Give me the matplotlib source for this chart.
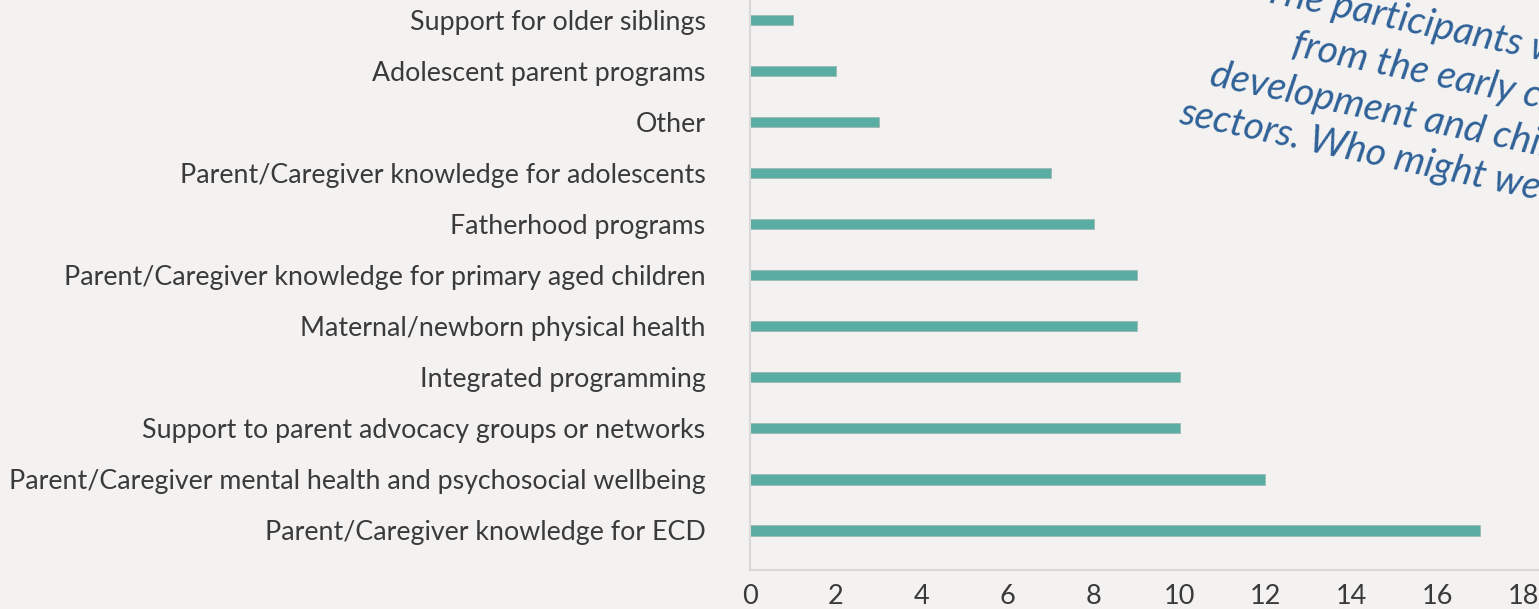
import matplotlib.pyplot as plt

# categories from bottom to top
categories = [
    "Parent/Caregiver knowledge for ECD",
    "Parent/Caregiver mental health and psychosocial wellbeing",
    "Support to parent advocacy groups or networks",
    "Integrated programming",
    "Maternal/newborn physical health",
    "Parent/Caregiver knowledge for primary aged children",
    "Fatherhood programs",
    "Parent/Caregiver knowledge for adolescents",
    "Other",
    "Adolescent parent programs",
    "Support for older siblings",
]
counts = [17, 12, 10, 10, 9, 9, 8, 7, 3, 2, 1]
xticks = [0, 2, 4, 6, 8, 10, 12, 14, 16, 18]

note_lines = [
    "The participants were",
    "from the early childhood",
    "development and child protection",
    "sectors. Who might we be missing?",
]

bg = "#f3f2f1"
bar_color = "#5aada3"
text_blue = "#2f6198"
label_color = "#3a3a3a"

plt.rcParams['font.family'] = ['Lato', 'DejaVu Sans']

W, H = 1539, 609
fig = plt.figure(figsize=(W / 100, H / 100), dpi=100, facecolor=bg)
ax = fig.add_axes([750 / W, (H - 570) / H, 1 - 750 / W, 570 / H])
ax.set_facecolor(bg)

ypos = list(range(len(categories)))
ax.barh(ypos, counts, height=0.21, color=bar_color, edgecolor="#9fb9b5", linewidth=0.6)

ax.set_xlim(0, 18.37)
ax.set_ylim(-0.78, 10.39)
ax.set_xticks(xticks)
ax.set_xticklabels([str(t) for t in xticks], fontsize=19.5, color=label_color)
ax.set_yticks(ypos)
ax.set_yticklabels(categories, fontsize=19.3, color=label_color)
ax.tick_params(axis='x', length=0, pad=10)
ax.tick_params(axis='y', length=0, pad=32)

for side in ['top', 'right']:
    ax.spines[side].set_visible(False)
for side in ['left', 'bottom']:
    ax.spines[side].set_color("#d9d9d9")
    ax.spines[side].set_linewidth(1.5)

# rotated note in the upper right (runs off the edge)
angle = 12.0
note_size = 28

# line starts (baseline, left) in pixels from the top-left corner
starts = [(1262, 1), (1290, 55), (1208, 85), (1177, 123)]
for line, (px, py) in zip(note_lines, starts):
    fig.text(px / W, 1 - py / H, line, fontsize=note_size, style='italic',
             color=text_blue, rotation=-angle, rotation_mode='anchor',
             ha='left', va='baseline')

fig.savefig("out.png", dpi=100, facecolor=bg)
